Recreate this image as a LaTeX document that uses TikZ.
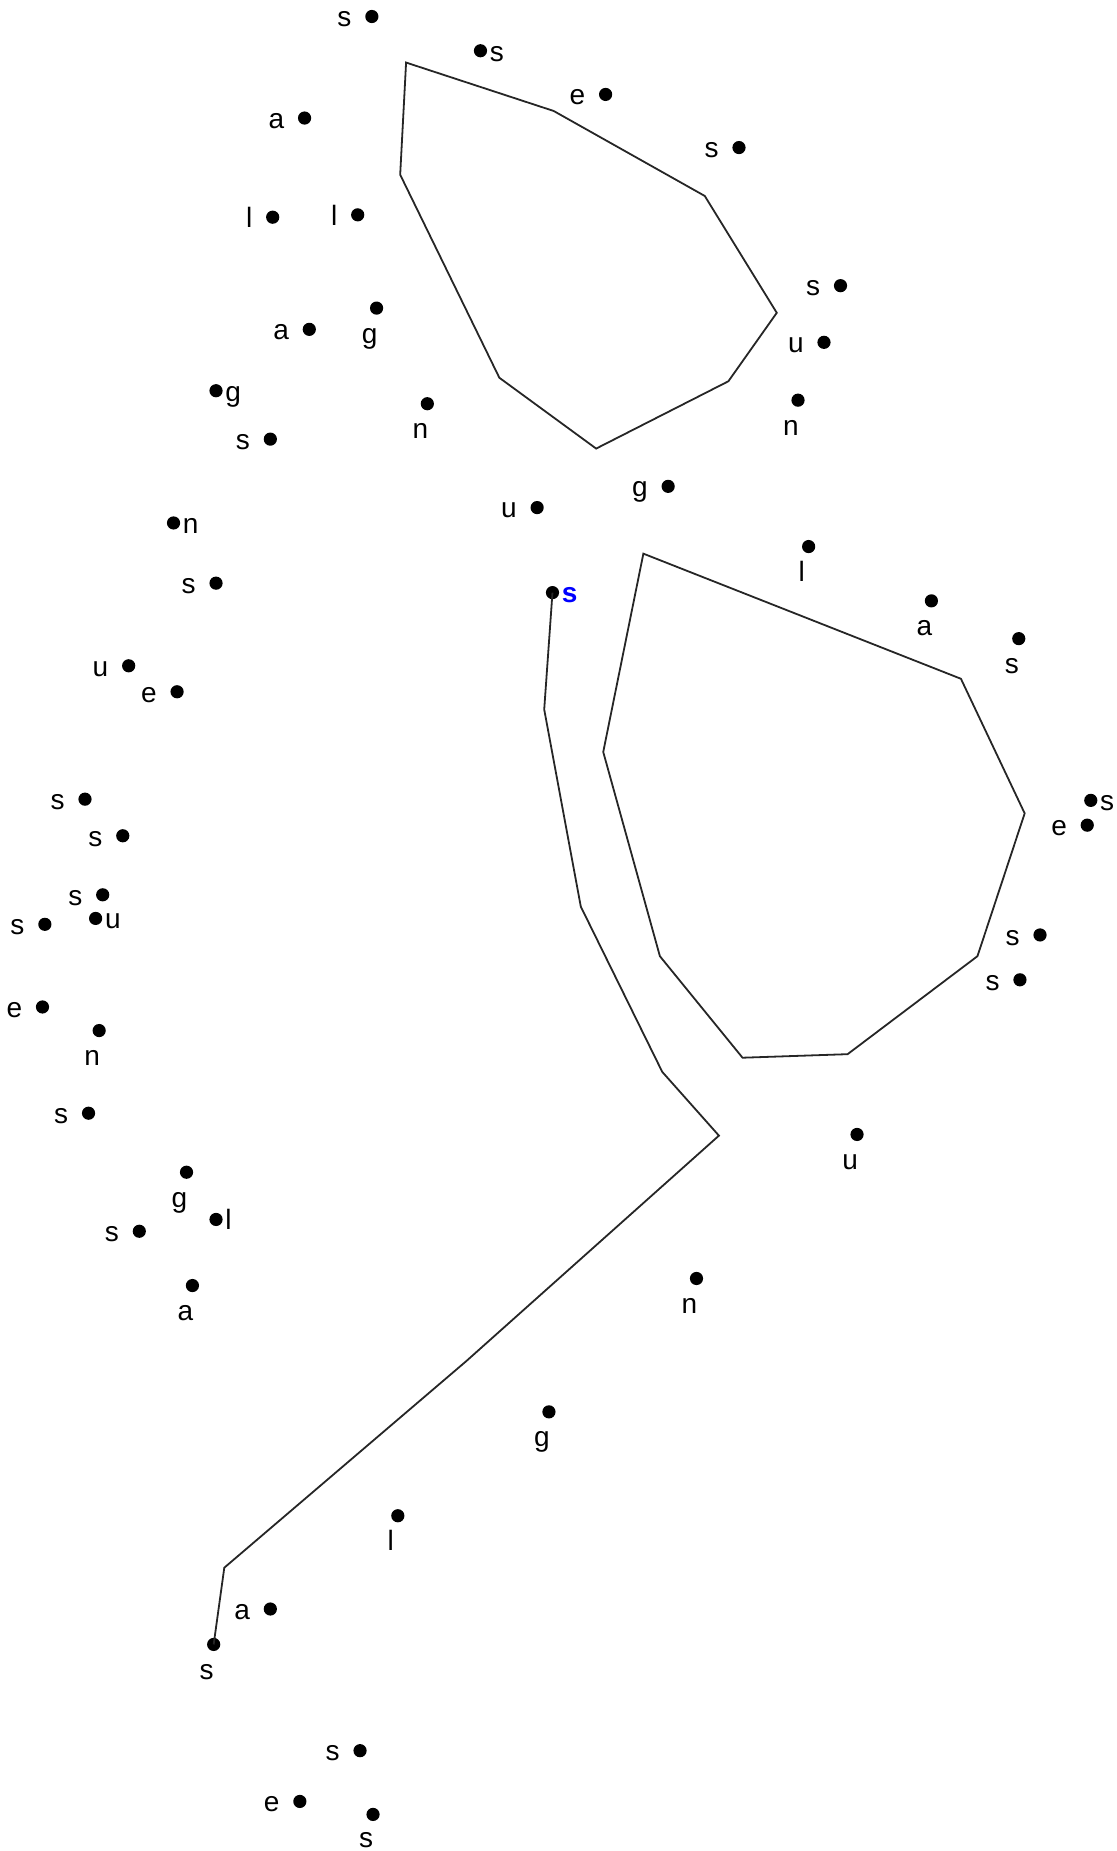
\documentclass[tikz,border=0pt]{standalone}
\usepackage{fontspec}
\setmainfont{Liberation Sans}
\usetikzlibrary{positioning}

\begin{document}
\begin{tikzpicture}[
  x=0.5905pt, y=-0.5905pt,
  font=\fontsize{14}{16}\selectfont,
  dot/.style ={circle, fill=black, inner sep=0pt, minimum size=6.6pt},
  lab/.style ={inner sep=0pt, text height=7.3pt, text depth=0pt, yshift=-1.5pt},
  labb/.style={lab, xshift=-3.5pt},
  start/.style={lab, text=blue, font=\fontsize{14}{16}\selectfont\bfseries},
  outline/.style={draw=black!85, line width=0.9pt, line join=miter},
]
\useasboundingbox (0,0) rectangle (946,1568);

% upper shape
\draw[outline] (344,53) -- (469,94) -- (597,166) -- (658,265) -- (617,323)
  -- (505,380) -- (423,320) -- (339,148) -- cycle;

% right shape
\draw[outline] (545,469) -- (814,575) -- (868,689) -- (828,810) -- (718,893)
  -- (629,896) -- (559,810) -- (511,637) -- cycle;

% points, top
\node[dot] (p1)  at (315,14)  {}; \node[lab, left=6.5pt of p1]    (t1)  {s};
\node[dot] (p2)  at (407,43)  {}; \node[lab, right=1pt of p2] (t2)  {s};
\node[dot] (p3)  at (513,80)  {}; \node[lab, left=6.5pt of p3]    (t3)  {e};
\node[dot] (p4)  at (626,125) {}; \node[lab, left=6.5pt of p4]    (t4)  {s};
\node[dot] (p5)  at (258,100) {}; \node[lab, left=6.5pt of p5]    (t5)  {a};
\node[dot] (p6)  at (231,184) {}; \node[lab, left=6.5pt of p6]    (t6)  {l};
\node[dot] (p7)  at (303,182) {}; \node[lab, left=6.5pt of p7]    (t7)  {l};
\node[dot] (p8)  at (262,279) {}; \node[lab, left=6.5pt of p8]    (t8)  {a};
\node[dot] (p9)  at (319,261) {}; \node[labb, below=5pt of p9] (t9) {g};
\node[dot] (p10) at (712,242) {}; \node[lab, left=6.5pt of p10]   (t10) {s};
\node[dot] (p11) at (698,290) {}; \node[lab, left=6.5pt of p11]   (t11) {u};
\node[dot] (p12) at (676,339) {}; \node[labb, below=5pt of p12] (t12) {n};
\node[dot] (p13) at (183,331) {}; \node[lab, right=1pt of p13] (t13) {g};
\node[dot] (p14) at (229,372) {}; \node[lab, left=6.5pt of p14]   (t14) {s};
\node[dot] (p15) at (362,342) {}; \node[labb, below=5pt of p15] (t15) {n};
\node[dot] (p16) at (566,412) {}; \node[lab, left=6.5pt of p16]   (t16) {g};
\node[dot] (p17) at (455,430) {}; \node[lab, left=6.5pt of p17]   (t17) {u};

% start of the path
\node[dot] (p18) at (468,502) {}; \node[start, right=1pt of p18] (t18) {s};

% points, right side
\node[dot] (p19) at (685,463) {}; \node[labb, below=5pt of p19] (t19) {l};
\node[dot] (p20) at (789,509) {}; \node[labb, below=5pt of p20] (t20) {a};
\node[dot] (p21) at (863,541) {}; \node[labb, below=5pt of p21] (t21) {s};
\node[dot] (p34) at (924,678) {}; \node[lab, right=1pt of p34] (t34) {s};
\node[dot] (p35) at (921,699) {}; \node[lab, left=6.5pt of p35]   (t35) {e};
\node[dot] (p36) at (881,792) {}; \node[lab, left=6.5pt of p36]   (t36) {s};
\node[dot] (p37) at (864,830) {}; \node[lab, left=6.5pt of p37]   (t37) {s};
\node[dot] (p38) at (726,961) {}; \node[labb, below=5pt of p38] (t38) {u};

% points, left side
\node[dot] (p22) at (147,443) {}; \node[lab, right=1pt of p22] (t22) {n};
\node[dot] (p23) at (183,494) {}; \node[lab, left=6.5pt of p23]   (t23) {s};
\node[dot] (p24) at (109,564) {}; \node[lab, left=6.5pt of p24]   (t24) {u};
\node[dot] (p25) at (150,586) {}; \node[lab, left=6.5pt of p25]   (t25) {e};
\node[dot] (p26) at (72,677)  {}; \node[lab, left=6.5pt of p26]   (t26) {s};
\node[dot] (p27) at (104,708) {}; \node[lab, left=6.5pt of p27]   (t27) {s};
\node[dot] (p28) at (87,758)  {}; \node[lab, left=6.5pt of p28]   (t28) {s};
\node[dot] (p29) at (38,783)  {}; \node[lab, left=6.5pt of p29]   (t29) {s};
\node[dot] (p30) at (81,778)  {}; \node[lab, right=1pt of p30] (t30) {u};
\node[dot] (p31) at (36,853)  {}; \node[lab, left=6.5pt of p31]   (t31) {e};
\node[dot] (p32) at (84,873)  {}; \node[labb, below=5pt of p32] (t32) {n};
\node[dot] (p33) at (75,943)  {}; \node[lab, left=6.5pt of p33]   (t33) {s};
\node[dot] (p39) at (158,993) {}; \node[labb, below=5pt of p39] (t39) {g};
\node[dot] (p40) at (183,1033) {}; \node[lab, right=1pt of p40] (t40) {l};
\node[dot] (p41) at (118,1043) {}; \node[lab, left=6.5pt of p41]  (t41) {s};
\node[dot] (p42) at (163,1089) {}; \node[labb, below=5pt of p42] (t42) {a};

% points, bottom
\node[dot] (p43) at (590,1083) {}; \node[labb, below=5pt of p43] (t43) {n};
\node[dot] (p44) at (465,1196) {}; \node[labb, below=5pt of p44] (t44) {g};
\node[dot] (p45) at (337,1284) {}; \node[labb, below=5pt of p45] (t45) {l};
\node[dot] (p46) at (229,1363) {}; \node[lab, left=6.5pt of p46]  (t46) {a};
\node[dot] (p47) at (181,1393) {}; \node[labb, below=5pt of p47] (t47) {s};
\node[dot] (p48) at (305,1483) {}; \node[lab, left=6.5pt of p48]  (t48) {s};
\node[dot] (p49) at (254,1526) {}; \node[lab, left=6.5pt of p49]  (t49) {e};
\node[dot] (p50) at (316,1537) {}; \node[labb, below=4pt of p50] (t50) {s};

% the open path
\draw[outline] (p18.center) -- (461,601) -- (492,768) -- (561,908) -- (609,962)
  -- (395,1153) -- (190,1328) -- (p47.center);

\end{tikzpicture}
\end{document}
